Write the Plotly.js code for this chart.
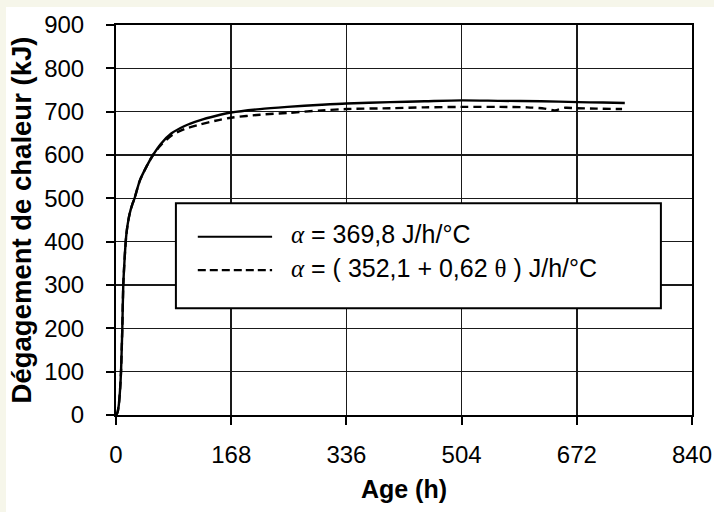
<!DOCTYPE html>
<html>
<head>
<meta charset="utf-8">
<script src="https://cdn.plot.ly/plotly-3.0.1.min.js"></script>
<style>
  html, body { margin: 0; padding: 0; width: 714px; height: 512px; background: #f6f6ea; overflow: hidden; }
  #chart { position: absolute; left: 6px; top: 7px; width: 708px; height: 505px; background: #ffffff; }
</style>
</head>
<body>
<div id="chart"></div>
<script>
// Age (h) and heat release (kJ)
const ageSolid  = [0, 2, 4, 6, 7.3, 8.3, 9.2, 10.6, 12, 13.5, 15, 17, 20, 24, 27, 35, 45, 54, 65, 81, 100, 122, 145, 168, 210, 250, 300, 336, 400, 450, 504, 560, 620, 674, 710, 742];
const heatSolid = [0, 5, 22, 60, 100, 150, 200, 300, 345, 385, 415, 440, 465, 487, 500, 542, 575, 600, 625, 650, 667, 680, 690, 698, 706, 711, 716, 719, 722, 724, 726, 725, 724, 722, 721, 720];

const ageDashed  = [0, 2, 4, 6, 7.3, 8.3, 9.2, 10.6, 12, 13.5, 15, 17, 20, 24, 27, 35, 45, 54, 65, 81, 100, 122, 145, 168, 210, 250, 300, 336, 400, 450, 504, 560, 600, 625, 640, 655, 670, 700, 738];
const heatDashed = [0, 5, 22, 60, 100, 150, 200, 300, 345, 385, 415, 440, 465, 487, 500, 542, 575, 600, 622, 645, 660, 670, 679, 686, 693, 697, 703, 706, 708, 710, 711, 711, 710, 707, 703, 709, 708, 707, 706];

const seriesNames = ["α = 369,8 J/h/°C", "α = ( 352,1 + 0,62 θ ) J/h/°C"];
const xTicks = [0, 168, 336, 504, 672, 840];
const yTicks = [0, 100, 200, 300, 400, 500, 600, 700, 800, 900];

const FONT = "Liberation Sans, Arial, Helvetica, sans-serif";
const SERIF = "Liberation Serif, Times New Roman, serif";

const traces = [
  { x: ageSolid, y: heatSolid, name: seriesNames[0], mode: "lines",
    line: { color: "#000", width: 2.4, shape: "spline", smoothing: 0.8 }, showlegend: false },
  { x: ageDashed, y: heatDashed, name: seriesNames[1], mode: "lines",
    line: { color: "#000", width: 2.4, dash: "8px,5px", shape: "spline", smoothing: 0.8 }, showlegend: false }
];

const axisCommon = {
  showline: true, linecolor: "#000", linewidth: 2, mirror: true,
  ticks: "outside", ticklen: 8, tickwidth: 2, tickcolor: "#000",
  showgrid: true, gridcolor: "#1a1a1a", gridwidth: 1.6,
  zeroline: false,
  tickfont: { family: FONT, size: 24, color: "#000" }
};

const layout = {
  width: 708, height: 505,
  margin: { l: 110, r: 22, t: 18, b: 97 },
  paper_bgcolor: "#ffffff", plot_bgcolor: "#ffffff",
  showlegend: false,
  xaxis: Object.assign({}, axisCommon, {
    range: [0, 840], tickvals: xTicks, ticktext: xTicks.map(String),
    ticklabelstandoff: 9,
    title: { text: "<b>Age (h)</b>", font: { family: FONT, size: 25, color: "#000" }, standoff: 14 }
  }),
  yaxis: Object.assign({}, axisCommon, {
    range: [0, 900], tickvals: yTicks, ticktext: yTicks.map(String),
    ticklabelstandoff: 17,
    title: { text: "<b>Dégagement de chaleur (kJ)</b>", font: { family: FONT, size: 27.5, color: "#000" }, standoff: 6 }
  }),
  shapes: [
    { type: "rect", xref: "paper", yref: "paper", x0: 0.104, x1: 0.946, y0: 0.274, y1: 0.543,
      line: { color: "#000", width: 2 }, fillcolor: "#ffffff", layer: "above" },
    { type: "line", xref: "paper", yref: "paper", x0: 0.142, x1: 0.271, y0: 0.457, y1: 0.457,
      line: { color: "#000", width: 2.2 }, layer: "above" },
    { type: "line", xref: "paper", yref: "paper", x0: 0.142, x1: 0.271, y0: 0.3715, y1: 0.3715,
      line: { color: "#000", width: 2.2, dash: "8px,4px" }, layer: "above" }
  ],
  annotations: [
    { xref: "paper", yref: "paper", x: 0.300, y: 0.463, xanchor: "left", yanchor: "middle", showarrow: false,
      text: "<i><span style='font-family:" + SERIF + "'>α</span></i> = 369,8 J/h/°C",
      font: { family: FONT, size: 25, color: "#000" } },
    { xref: "paper", yref: "paper", x: 0.300, y: 0.377, xanchor: "left", yanchor: "middle", showarrow: false,
      text: "<i><span style='font-family:" + SERIF + "'>α</span></i> = ( 352,1 + 0,62 <span style='font-family:" + SERIF + "'>θ</span> ) J/h/°C",
      font: { family: FONT, size: 25, color: "#000" } }
  ]
};

Plotly.newPlot("chart", traces, layout, { displayModeBar: false, staticPlot: true });
</script>
</body>
</html>
